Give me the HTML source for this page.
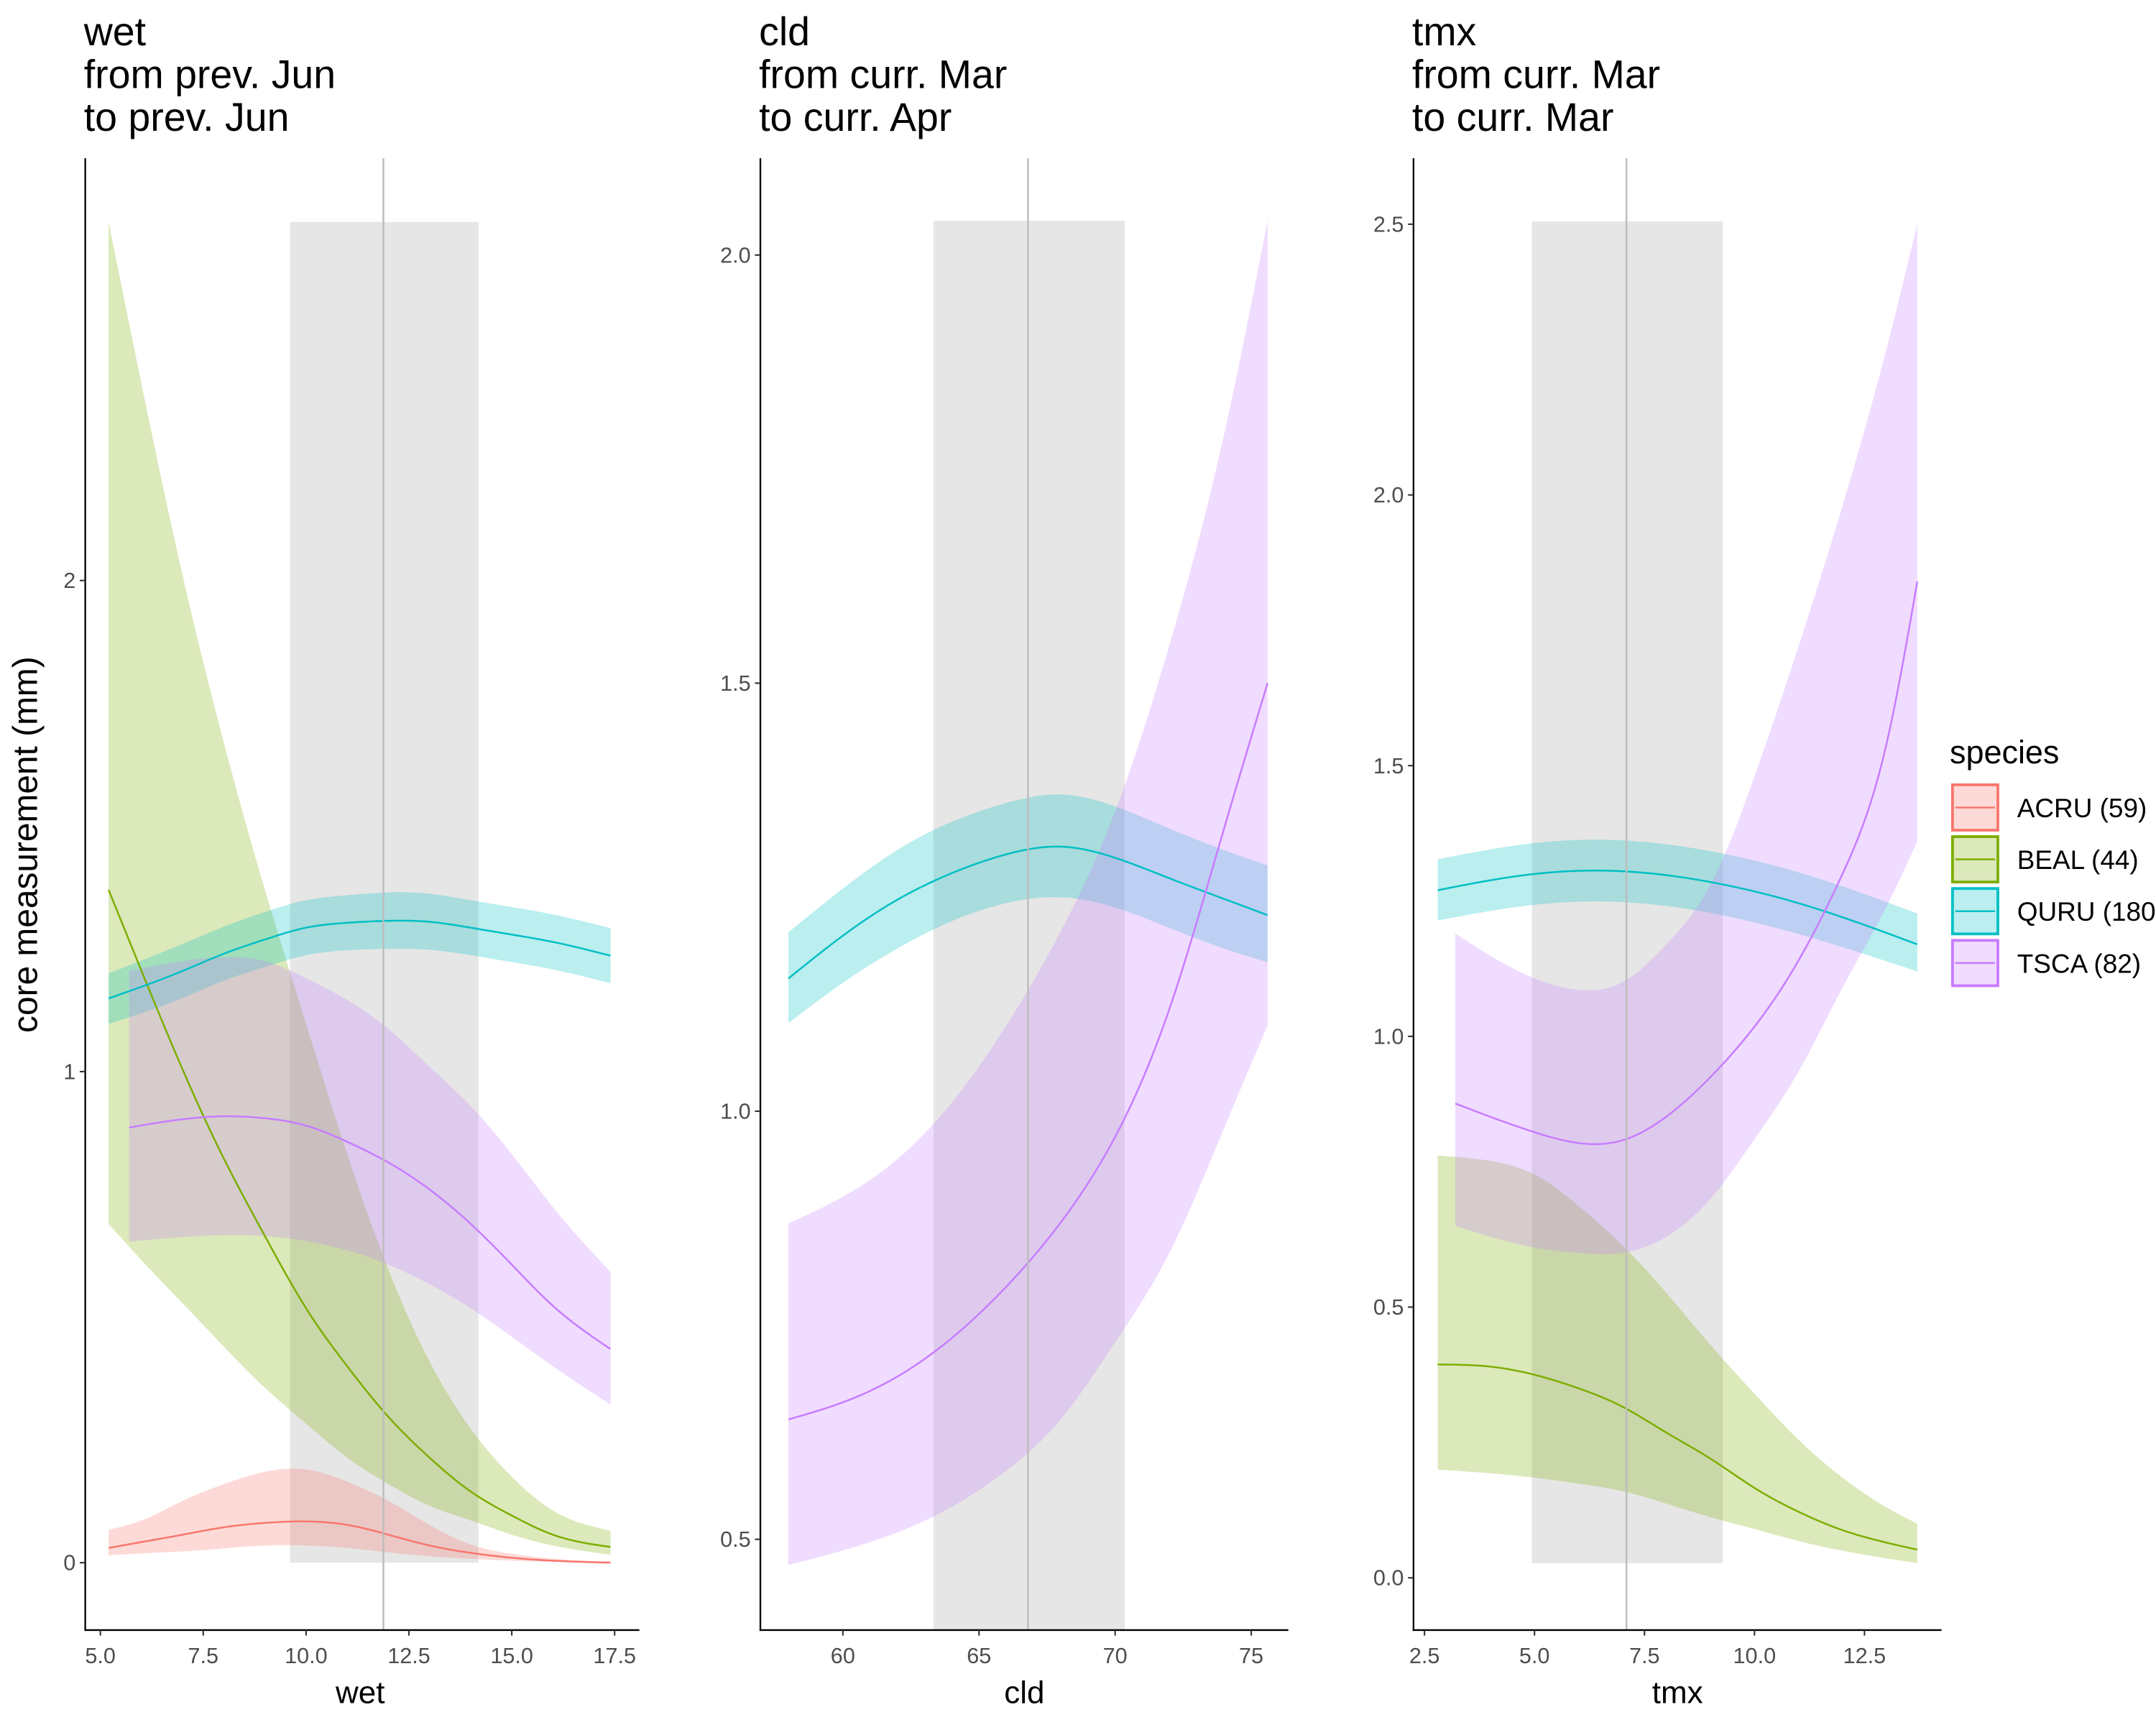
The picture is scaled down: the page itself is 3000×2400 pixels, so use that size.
<!DOCTYPE html>
<html><head><meta charset="utf-8"><style>
html,body{margin:0;padding:0;background:#fff;}
svg{display:block;}
text{font-family:"Liberation Sans",Arial,sans-serif;}
</style></head><body>
<svg id="chart" width="3000" height="2400" viewBox="0 0 1568 1254" preserveAspectRatio="none" xmlns="http://www.w3.org/2000/svg">
<g id="titles" font-size="29" fill="#000">
 <text x="61" y="33">wet</text>
 <text x="61" y="64">from prev. Jun</text>
 <text x="61" y="95">to prev. Jun</text>
 <text x="552" y="33">cld</text>
 <text x="552" y="64">from curr. Mar</text>
 <text x="552" y="95">to curr. Apr</text>
 <text x="1027" y="33">tmx</text>
 <text x="1027" y="64">from curr. Mar</text>
 <text x="1027" y="95">to curr. Mar</text>
</g>
<text x="0" y="0" transform="translate(27,614) rotate(-90)" text-anchor="middle" font-size="25">core measurement (mm)</text>
<g id="legend">
 <text x="1418" y="555" font-size="23.5">species</text>
</g>
</svg>
<script>
// ---------- DATA ----------
const species = ["ACRU (59)","BEAL (44)","QURU (180)","TSCA (82)"];
const colors = ["#F8766D","#7CAE00","#00BFC4","#C77CFF"];

// Panel 1: wet
const wetX_ACRU = [5.2,6,7,8,9,10,11,12,13,14,15,16,17.4];
const wetMean_ACRU = [0.03,0.042,0.057,0.072,0.081,0.084,0.077,0.057,0.035,0.02,0.01,0.004,0.0];
const wetLo_ACRU = [0.015,0.019,0.023,0.029,0.035,0.035,0.03,0.021,0.013,0.008,0.004,0.002,0.001];
const wetHi_ACRU = [0.067,0.086,0.126,0.16,0.185,0.19,0.165,0.126,0.077,0.037,0.018,0.008,0.002];
const wetX_BEAL = [5.2,6,7,8,9,10,11,12,13,14,15,16,17.4];
const wetMean_BEAL = [1.37,1.205,1.004,0.823,0.665,0.518,0.40,0.297,0.214,0.145,0.096,0.057,0.032];
const wetLo_BEAL = [0.69,0.616,0.528,0.44,0.356,0.283,0.214,0.16,0.116,0.086,0.057,0.035,0.016];
const wetHi_BEAL = [2.73,2.40,2.01,1.67,1.37,1.097,0.832,0.597,0.41,0.273,0.175,0.106,0.065];
const wetX_QURU = [5.2,7,8,9,10,11,12,13,14,15,16,17.4];
const wetMean_QURU = [1.149,1.205,1.24,1.269,1.293,1.303,1.307,1.305,1.293,1.279,1.264,1.236];
const wetLo_QURU = [1.097,1.15,1.185,1.213,1.237,1.247,1.25,1.248,1.237,1.223,1.208,1.18];
const wetHi_QURU = [1.2,1.26,1.295,1.325,1.349,1.359,1.365,1.362,1.349,1.335,1.32,1.292];
const wetX_TSCA = [5.7,7,8,9,10,11,12,13,14,15,16,17.4];
const wetMean_TSCA = [0.886,0.903,0.909,0.905,0.89,0.857,0.815,0.76,0.69,0.607,0.523,0.435];
const wetLo_TSCA = [0.654,0.663,0.667,0.665,0.655,0.636,0.607,0.567,0.518,0.46,0.40,0.322];
const wetHi_TSCA = [1.205,1.225,1.233,1.225,1.19,1.146,1.087,1.01,0.93,0.832,0.724,0.592];
const wetTicks = [5,7.5,10,12.5,15,17.5];
const wetTickLabels = ["5.0","7.5","10.0","12.5","15.0","17.5"];
const wetYTicks = [0,1,2];
const wetYTickLabels = ["0","1","2"];
const wetShade = [9.61,14.19,0,2.73];
const wetVline = 11.88;

// Panel 2: cld
const cldX_QURU = [58,60,62,64,66,68,70,72,74,75.6];
const cldMean_QURU = [1.155,1.205,1.247,1.278,1.3,1.309,1.296,1.272,1.248,1.229];
const cldLo_QURU = [1.103,1.15,1.19,1.222,1.243,1.25,1.238,1.214,1.19,1.174];
const cldHi_QURU = [1.209,1.26,1.305,1.338,1.36,1.37,1.356,1.33,1.305,1.287];
const cldX_TSCA = [58,60,62,64,66,68,70,72,74,75.6];
const cldMean_TSCA = [0.64,0.66,0.69,0.735,0.795,0.87,0.97,1.12,1.33,1.5];
const cldLo_TSCA = [0.47,0.487,0.508,0.538,0.58,0.64,0.73,0.835,0.98,1.1];
const cldHi_TSCA = [0.869,0.9,0.944,1.01,1.1,1.21,1.35,1.545,1.79,2.04];
const cldTicks = [60,65,70,75];
const cldTickLabels = ["60","65","70","75"];
const cldYTicks = [0.5,1,1.5,2];
const cldYTickLabels = ["0.5","1.0","1.5","2.0"];
const cldShade = [63.33,70.35,0.39,2.04];
const cldVline = 66.8;

// Panel 3: tmx
const tmxX_BEAL = [2.8,4,5,6,7,8,9,10,11,12,13,13.7];
const tmxMean_BEAL = [0.394,0.39,0.375,0.35,0.316,0.268,0.22,0.166,0.122,0.088,0.065,0.052];
const tmxLo_BEAL = [0.2,0.193,0.185,0.174,0.16,0.137,0.112,0.09,0.068,0.05,0.036,0.027];
const tmxHi_BEAL = [0.78,0.77,0.745,0.687,0.614,0.526,0.43,0.34,0.255,0.185,0.13,0.10];
const tmxX_QURU = [2.8,5,7,9,11,13.7];
const tmxMean_QURU = [1.27,1.3,1.305,1.285,1.246,1.17];
const tmxLo_QURU = [1.214,1.243,1.248,1.228,1.189,1.12];
const tmxHi_QURU = [1.327,1.357,1.362,1.342,1.303,1.227];
const tmxX_TSCA = [3.2,5,6,7,8,9,10,11,12,13,13.7];
const tmxMean_TSCA = [0.876,0.823,0.803,0.808,0.852,0.925,1.018,1.14,1.3,1.54,1.84];
const tmxLo_TSCA = [0.65,0.61,0.6,0.6,0.63,0.7,0.81,0.935,1.09,1.24,1.36];
const tmxHi_TSCA = [1.19,1.107,1.086,1.1,1.17,1.28,1.48,1.72,1.98,2.27,2.5];
const tmxTicks = [2.5,5,7.5,10,12.5];
const tmxTickLabels = ["2.5","5.0","7.5","10.0","12.5"];
const tmxYTicks = [0,0.5,1,1.5,2,2.5];
const tmxYTickLabels = ["0.0","0.5","1.0","1.5","2.0","2.5"];
const tmxShade = [4.94,9.28,0.027,2.505];
const tmxVline = 7.09;

// ---------- DRAW ----------
const NS="http://www.w3.org/2000/svg";
const svg=document.getElementById('chart');
function mk(tag,attrs,parent){const e=document.createElementNS(NS,tag);for(const k in attrs)e.setAttribute(k,attrs[k]);(parent||svg).appendChild(e);return e;}
function spline(xs,ys){
  const n=xs.length,h=[],a=[],l=[1],mu=[0],z=[0],c=new Array(n).fill(0),b=[],d=[];
  for(let i=0;i<n-1;i++)h[i]=xs[i+1]-xs[i];
  for(let i=1;i<n-1;i++)a[i]=3/h[i]*(ys[i+1]-ys[i])-3/h[i-1]*(ys[i]-ys[i-1]);
  for(let i=1;i<n-1;i++){l[i]=2*(xs[i+1]-xs[i-1])-h[i-1]*mu[i-1];mu[i]=h[i]/l[i];z[i]=(a[i]-h[i-1]*z[i-1])/l[i];}
  l[n-1]=1;z[n-1]=0;c[n-1]=0;
  for(let j=n-2;j>=0;j--){c[j]=z[j]-mu[j]*c[j+1];b[j]=(ys[j+1]-ys[j])/h[j]-h[j]*(c[j+1]+2*c[j])/3;d[j]=(c[j+1]-c[j])/(3*h[j]);}
  const out=[];const N=120;
  for(let k=0;k<=N;k++){
    const x=xs[0]+(xs[n-1]-xs[0])*k/N;
    let j=0;while(j<n-2&&x>xs[j+1])j++;
    const dx=x-xs[j];
    out.push([x,ys[j]+b[j]*dx+c[j]*dx*dx+d[j]*dx*dx*dx]);
  }
  return out;
}
function pathOf(pts){return pts.map((p,i)=>(i?"L":"M")+p[0].toFixed(2)+","+p[1].toFixed(2)).join(" ");}

const panels=[
 {key:"wet",px0:73,v0:5,pxPer:29.92,py0:1136,yv0:0,pyPer:357,axL:62,axR:465,axT:115,axB:1185,
  xt:wetTicks,xtl:wetTickLabels,yt:wetYTicks,ytl:wetYTickLabels,shade:wetShade,vline:wetVline,title:"wet",titleX:262,
  series:[
   {sp:0,x:wetX_ACRU,m:wetMean_ACRU,lo:wetLo_ACRU,hi:wetHi_ACRU},
   {sp:1,x:wetX_BEAL,m:wetMean_BEAL,lo:wetLo_BEAL,hi:wetHi_BEAL},
   {sp:2,x:wetX_QURU,m:wetMean_QURU,lo:wetLo_QURU,hi:wetHi_QURU},
   {sp:3,x:wetX_TSCA,m:wetMean_TSCA,lo:wetLo_TSCA,hi:wetHi_TSCA}]},
 {key:"cld",px0:613,v0:60,pxPer:19.8,py0:1119,yv0:0.5,pyPer:622.4,axL:553,axR:937,axT:115,axB:1185,
  xt:cldTicks,xtl:cldTickLabels,yt:cldYTicks,ytl:cldYTickLabels,shade:cldShade,vline:cldVline,title:"cld",titleX:745,
  series:[
   {sp:2,x:cldX_QURU,m:cldMean_QURU,lo:cldLo_QURU,hi:cldHi_QURU},
   {sp:3,x:cldX_TSCA,m:cldMean_TSCA,lo:cldLo_TSCA,hi:cldHi_TSCA}]},
 {key:"tmx",px0:1036,v0:2.5,pxPer:32,py0:1147,yv0:0,pyPer:393.6,axL:1028,axR:1412,axT:115,axB:1185,
  xt:tmxTicks,xtl:tmxTickLabels,yt:tmxYTicks,ytl:tmxYTickLabels,shade:tmxShade,vline:tmxVline,title:"tmx",titleX:1220,
  series:[
   {sp:1,x:tmxX_BEAL,m:tmxMean_BEAL,lo:tmxLo_BEAL,hi:tmxHi_BEAL},
   {sp:2,x:tmxX_QURU,m:tmxMean_QURU,lo:tmxLo_QURU,hi:tmxHi_QURU},
   {sp:3,x:tmxX_TSCA,m:tmxMean_TSCA,lo:tmxLo_TSCA,hi:tmxHi_TSCA}]}
];
const spKey=["acru","beal","quru","tsca"];

panels.forEach(P=>{
  const X=v=>P.px0+(v-P.v0)*P.pxPer;
  const Y=v=>Math.min(P.axB,P.py0-(v-P.yv0)*P.pyPer);
  const g=mk('g',{});
  
  
  const sh=P.shade;
  const r=mk('rect',{x:X(sh[0]),y:Y(sh[3]),width:X(sh[1])-X(sh[0]),height:Y(sh[2])-Y(sh[3]),fill:'#e6e6e6'},g);
  
  
  P.series.forEach(s=>{
    const up=spline(s.x,s.hi).map(p=>[X(p[0]),Y(p[1])]);
    const dn=spline(s.x,s.lo).map(p=>[X(p[0]),Y(p[1])]).reverse();
    const rb=mk('path',{d:pathOf(up.concat(dn))+" Z",fill:colors[s.sp],'fill-opacity':0.27,stroke:'none'},g);
    
    
  });
  P.series.forEach(s=>{
    const pts=spline(s.x,s.m).map(p=>[X(p[0]),Y(p[1])]);
    const ln=mk('path',{d:pathOf(pts),fill:'none',stroke:colors[s.sp],'stroke-width':1.3},g);
    
    
  });
  const vl=mk('line',{x1:X(P.vline),x2:X(P.vline),y1:P.axT,y2:P.axB,stroke:'#bdbdbd','stroke-width':1.3},g);
  
  
  const ya=mk('line',{x1:P.axL,x2:P.axL,y1:P.axT,y2:P.axB+0.6,stroke:'#000','stroke-width':1.2},g);
  
  
  const xa=mk('line',{x1:P.axL-0.6,x2:P.axR,y1:P.axB,y2:P.axB,stroke:'#000','stroke-width':1.2},g);
  
  
  P.xt.forEach((v,i)=>{
    const tk=mk('line',{x1:X(v),x2:X(v),y1:P.axB,y2:P.axB+4,stroke:'#333','stroke-width':1.1},g);
    
    
    const t=mk('text',{x:X(v),y:P.axB+24,'text-anchor':'middle','font-size':16,fill:'#4d4d4d'},g);
    t.textContent=P.xtl[i];
    
    
  });
  P.yt.forEach((v,i)=>{
    const yy=P.py0-(v-P.yv0)*P.pyPer;
    const tk=mk('line',{x1:P.axL-4,x2:P.axL,y1:yy,y2:yy,stroke:'#333','stroke-width':1.1},g);
    
    
    const t=mk('text',{x:P.axL-7,y:yy+5.5,'text-anchor':'end','font-size':16,fill:'#4d4d4d'},g);
    t.textContent=P.ytl[i];
    
    
  });
  const xt=mk('text',{x:P.titleX,y:1238,'text-anchor':'middle','font-size':23,fill:'#000'},g);
  xt.textContent=P.title;
  
  
});

const lg=document.getElementById('legend');
species.forEach((s,i)=>{
  const y0=569+i*37.7;
  const g=mk('g',{},lg);
  
  
  const bx=mk('rect',{x:1420,y:y0+1.5,width:33,height:33,fill:colors[i],'fill-opacity':0.27,stroke:colors[i],'stroke-width':2},g);
  
  
  const ln=mk('line',{x1:1422,x2:1451,y1:y0+18,y2:y0+18,stroke:colors[i],'stroke-width':1.3},g);
  
  
  const t=mk('text',{x:1467,y:y0+25,'font-size':19.3,fill:'#000'},g);
  t.textContent=s;
  
  
});
</script>
</body></html>
